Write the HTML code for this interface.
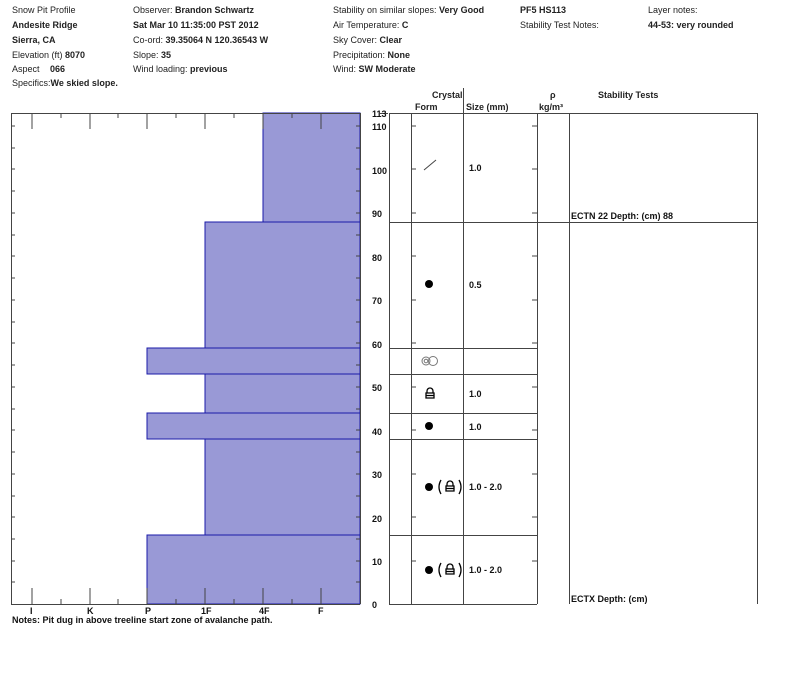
<!DOCTYPE html>
<html><head><style>
body{margin:0;background:#fff;width:800px;height:676px;overflow:hidden;font-family:"Liberation Sans",Arial,sans-serif}
svg text{font-family:"Liberation Sans",Arial,sans-serif;font-size:9px}
.b{font-weight:bold}
</style></head><body>
<svg width="800" height="676" xmlns="http://www.w3.org/2000/svg">
<g fill="#222">
<text x="12" y="13">Snow Pit Profile</text>
<text x="12" y="28" class="b">Andesite Ridge</text>
<text x="12" y="43" class="b">Sierra, CA</text>
<text x="12" y="58">Elevation (ft) <tspan class="b">  8070</tspan></text>
<text x="12" y="72">Aspect  <tspan class="b" dx="8">066</tspan></text>
<text x="12" y="86">Specifics:<tspan class="b">We skied slope.</tspan></text>
<text x="133" y="13">Observer: <tspan class="b">Brandon Schwartz</tspan></text>
<text x="133" y="28" class="b">Sat Mar 10 11:35:00 PST 2012</text>
<text x="133" y="43">Co-ord: <tspan class="b">39.35064 N 120.36543 W</tspan></text>
<text x="133" y="58">Slope: <tspan class="b">35</tspan></text>
<text x="133" y="72">Wind loading: <tspan class="b">previous</tspan></text>
<text x="333" y="13">Stability on similar slopes: <tspan class="b">Very Good</tspan></text>
<text x="333" y="28">Air Temperature: <tspan class="b"> C</tspan></text>
<text x="333" y="43">Sky Cover: <tspan class="b">Clear</tspan></text>
<text x="333" y="58">Precipitation: <tspan class="b">None</tspan></text>
<text x="333" y="72">Wind: <tspan class="b">SW Moderate</tspan></text>
<text x="520" y="13" class="b">PF5 HS113</text>
<text x="520" y="28">Stability Test Notes:</text>
<text x="648" y="13">Layer notes:</text>
<text x="648" y="28" class="b">44-53: very rounded</text>
<text x="432" y="98" class="b">Crystal</text>
<text x="415" y="110" class="b">Form</text>
<text x="466" y="110" class="b">Size (mm)</text>
<text x="550" y="98" class="b">ρ</text>
<text x="539" y="110" class="b">kg/m³</text>
<text x="598" y="98" class="b">Stability Tests</text>
</g>
<!-- bars -->
<g fill="#9999d6" stroke="#1a1aa8" stroke-width="1">
<rect x="263" y="113" width="97" height="109"/>
<rect x="205" y="222" width="155" height="126"/>
<rect x="147" y="348" width="213" height="26"/>
<rect x="205" y="374" width="155" height="39"/>
<rect x="147" y="413" width="213" height="26"/>
<rect x="205" y="439" width="155" height="96"/>
<rect x="147" y="535" width="213" height="69"/>
</g>
<g stroke="#444" stroke-width="1" fill="none">
<line x1="11" y1="113.5" x2="360" y2="113.5"/>
<line x1="11" y1="604.5" x2="360" y2="604.5"/>
<line x1="11.5" y1="113" x2="11.5" y2="604"/>
<line x1="360.5" y1="113" x2="360.5" y2="604"/>
<path d="M32 113v16M90 113v16M147 113v16M205 113v16M263 113v16M321 113v16M61 113v5M118 113v5M176 113v5M234 113v5M292 113v5
M32 604v-16M90 604v-16M147 604v-16M205 604v-16M263 604v-16M321 604v-16M61 604v-5M118 604v-5M176 604v-5M234 604v-5M292 604v-5"/>
<path d="M11 126h4M11 148h4M11 169h4M11 191h4M11 213h4M11 235h4M11 256h4M11 278h4M11 300h4M11 322h4M11 343h4M11 365h4M11 387h4M11 409h4M11 430h4M11 452h4M11 474h4M11 496h4M11 517h4M11 539h4M11 561h4M11 582h4
M360 126h-4M360 148h-4M360 169h-4M360 191h-4M360 213h-4M360 235h-4M360 256h-4M360 278h-4M360 300h-4M360 322h-4M360 343h-4M360 365h-4M360 387h-4M360 409h-4M360 430h-4M360 452h-4M360 474h-4M360 496h-4M360 517h-4M360 539h-4M360 561h-4M360 582h-4"/>
<!-- right table -->
<line x1="389" y1="113.5" x2="757" y2="113.5"/>
<line x1="389.5" y1="113" x2="389.5" y2="604"/>
<line x1="411.5" y1="113" x2="411.5" y2="604"/>
<line x1="463.5" y1="88" x2="463.5" y2="604"/>
<line x1="537.5" y1="113" x2="537.5" y2="604"/>
<line x1="569.5" y1="113" x2="569.5" y2="604"/>
<line x1="757.5" y1="113" x2="757.5" y2="604"/>
<line x1="389" y1="604.5" x2="537" y2="604.5"/>
<line x1="389" y1="222.5" x2="757" y2="222.5"/>
<path d="M389 348.5h148M389 374.5h148M389 413.5h148M389 439.5h148M389 535.5h148"/>
<path d="M411 126h5M411 169h5M411 213h5M411 256h5M411 300h5M411 343h5M411 387h5M411 430h5M411 474h5M411 517h5M411 561h5
M537 126h-5M537 169h-5M537 213h-5M537 256h-5M537 300h-5M537 343h-5M537 387h-5M537 430h-5M537 474h-5M537 517h-5M537 561h-5"/>
<path d="M380 113.5h8"/>
<line x1="424" y1="170" x2="436" y2="160"/>
</g>
<g fill="#111" class="b">
<text x="372" y="117" class="b">113</text>
<text x="372" y="130" class="b">110</text>
<text x="372" y="174" class="b">100</text>
<text x="372" y="217" class="b">90</text>
<text x="372" y="261" class="b">80</text>
<text x="372" y="304" class="b">70</text>
<text x="372" y="348" class="b">60</text>
<text x="372" y="391" class="b">50</text>
<text x="372" y="435" class="b">40</text>
<text x="372" y="478" class="b">30</text>
<text x="372" y="522" class="b">20</text>
<text x="372" y="565" class="b">10</text>
<text x="372" y="608" class="b">0</text>
<text x="30" y="614" class="b">I</text>
<text x="87" y="614" class="b">K</text>
<text x="145" y="614" class="b">P</text>
<text x="201" y="614" class="b">1F</text>
<text x="259" y="614" class="b">4F</text>
<text x="318" y="614" class="b">F</text>
<text x="12" y="623" class="b">Notes:  Pit dug in above treeline start zone of avalanche path.</text>
<text x="469" y="171" class="b">1.0</text>
<text x="469" y="288" class="b">0.5</text>
<text x="469" y="397" class="b">1.0</text>
<text x="469" y="430" class="b">1.0</text>
<text x="469" y="490" class="b">1.0 - 2.0</text>
<text x="469" y="573" class="b">1.0 - 2.0</text>
<text x="571" y="219" class="b">ECTN 22   Depth: (cm) 88</text>
<text x="571" y="602" class="b">ECTX   Depth: (cm)</text>
</g>
<g fill="#000">
<circle cx="429" cy="284" r="4"/>
<circle cx="429" cy="426" r="4"/>
<circle cx="429" cy="487" r="4"/>
<circle cx="429" cy="570" r="4"/>
</g>
<g fill="none" stroke="#000" stroke-width="1.3">
<path d="M426 398v-5h8v5zM427 393v-2a3 3 0 0 1 6 0v2M426 395.5h8"/>
<path d="M446 491v-5h8v5zM447 486v-2a3 3 0 0 1 6 0v2M446 488.5h8"/>
<path d="M446 574v-5h8v5zM447 569v-2a3 3 0 0 1 6 0v2M446 571.5h8"/>
<path d="M441 480q-4 7 0 14M459 480q4 7 0 14M441 563q-4 7 0 14M459 563q4 7 0 14"/>
</g>
<g fill="none" stroke="#777" stroke-width="1">
<circle cx="426" cy="361" r="4"/><circle cx="426" cy="361" r="1.8"/>
<circle cx="433" cy="361" r="4.5"/>
</g>
</svg>
</body></html>
